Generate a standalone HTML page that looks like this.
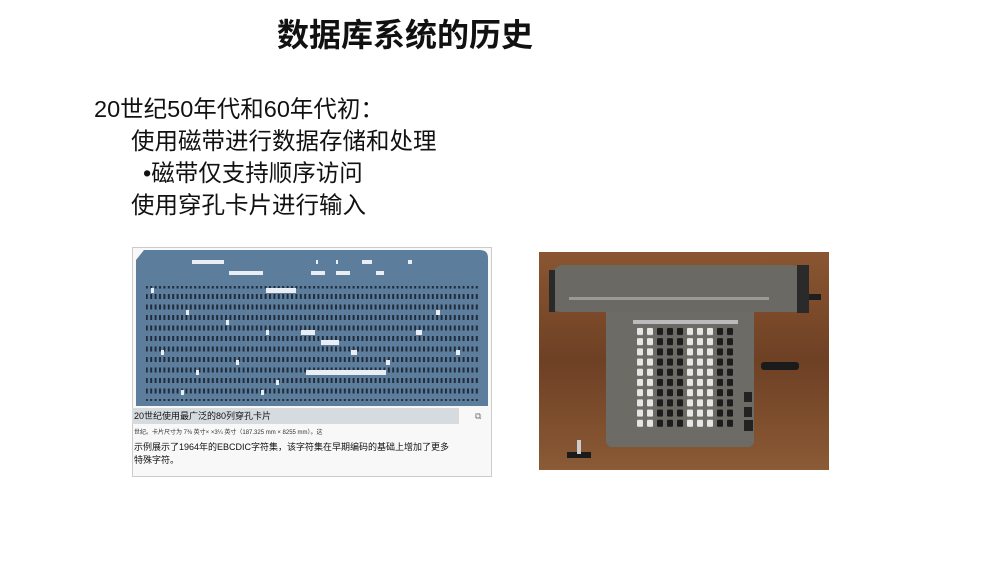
<!DOCTYPE html>
<html><head><meta charset="utf-8"><style>
body{margin:0;width:1006px;height:567px;background:#fff;position:relative;overflow:hidden;font-family:"Liberation Sans","Noto Sans CJK SC",sans-serif;color:#111}
.t{position:absolute;white-space:nowrap}
</style></head><body>
<div class="t" style="left:277px;top:15px;font-size:32px;font-weight:bold;line-height:40px">数据库系统的历史</div>
<div class="t" style="left:94px;top:94px;font-size:23.5px;line-height:30px">20世纪50年代和60年代初：</div>
<div class="t" style="left:131px;top:126px;font-size:23.5px;line-height:30px">使用磁带进行数据存储和处理</div>
<div class="t" style="left:143px;top:158px;font-size:23.5px;line-height:30px">•磁带仅支持顺序访问</div>
<div class="t" style="left:131px;top:190px;font-size:23.5px;line-height:30px">使用穿孔卡片进行输入</div>

<div style="position:absolute;left:132px;top:247px;width:358px;height:228px;border:1px solid #ccc;background:#f8f8f8"></div>
<svg style="position:absolute;left:136px;top:250px" width="352" height="156">
<defs><pattern id="p" width="4.4" height="10.5" patternUnits="userSpaceOnUse"><rect x="1" y="2" width="2" height="5" fill="#1e2c3c"/></pattern></defs>
<path d="M8 0 H344 Q352 0 352 8 V156 H0 V10 Z" fill="#5d7d9c"/>
<rect x="10" y="36" width="334" height="115" fill="url(#p)"/>
<g fill="#e8eef4">
<rect x="56" y="10" width="32" height="4"/><rect x="93" y="21" width="34" height="4"/>
<rect x="180" y="10" width="2" height="4"/><rect x="200" y="10" width="2" height="4"/><rect x="226" y="10" width="10" height="4"/><rect x="272" y="10" width="4" height="4"/>
<rect x="175" y="21" width="14" height="4"/><rect x="200" y="21" width="14" height="4"/><rect x="240" y="21" width="8" height="4"/>
<rect x="130" y="38" width="30" height="5"/><rect x="15" y="38" width="3" height="5"/><rect x="170" y="120" width="80" height="5"/>
<rect x="50" y="60" width="3" height="5"/><rect x="90" y="70" width="3" height="5"/><rect x="130" y="80" width="3" height="5"/><rect x="165" y="80" width="14" height="5"/>
<rect x="185" y="90" width="18" height="5"/><rect x="215" y="100" width="6" height="5"/><rect x="250" y="110" width="4" height="5"/><rect x="280" y="80" width="6" height="5"/>
<rect x="25" y="100" width="3" height="5"/><rect x="60" y="120" width="3" height="5"/><rect x="100" y="110" width="3" height="5"/><rect x="140" y="130" width="3" height="5"/>
<rect x="45" y="140" width="3" height="5"/><rect x="125" y="140" width="3" height="5"/><rect x="300" y="60" width="4" height="5"/><rect x="320" y="100" width="4" height="5"/>
</g></svg>
<div style="position:absolute;left:132px;top:408px;width:327px;height:16px;background:#d6dbe0"></div>
<div class="t" style="left:134px;top:409px;font-size:9px">20世纪使用最广泛的80列穿孔卡片</div>
<div class="t" style="left:475px;top:411px;font-size:9px;color:#777">⧉</div>
<div class="t" style="left:134px;top:427px;font-size:6px;color:#333">世纪。卡片尺寸为 7⅜ 英寸× ×3¼ 英寸（187.325 mm × 8255 mm）。这</div>
<div class="t" style="left:134px;top:441px;font-size:9px;line-height:13px">示例展示了1964年的EBCDIC字符集，该字符集在早期编码的基础上增加了更多<br>特殊字符。</div>

<svg style="position:absolute;left:539px;top:252px" width="290" height="218">
<defs><linearGradient id="w" x1="0" y1="0" x2="0" y2="1"><stop offset="0" stop-color="#8a5632"/><stop offset="0.5" stop-color="#6e4024"/><stop offset="1" stop-color="#8b5a36"/></linearGradient></defs>
<rect width="290" height="218" fill="url(#w)"/>
<rect x="67" y="55" width="148" height="140" rx="6" fill="#6d6b65"/>
<path d="M12 25 Q14 14 24 13 H250 Q268 13 270 30 V52 Q268 60 255 60 H22 Q12 60 10 50 Z" fill="#6a6963"/>
<rect x="10" y="18" width="6" height="42" fill="#2a2a2a"/><rect x="258" y="13" width="12" height="48" fill="#2a2a2a"/>
<rect x="270" y="42" width="12" height="6" fill="#1e1e1e"/>
<rect x="30" y="45" width="200" height="3" fill="#9a9a94"/>
<rect x="94" y="68" width="105" height="4" fill="#bbb"/>
<rect x="28" y="200" width="24" height="6" fill="#1a1a1a"/>
<rect x="38" y="188" width="4" height="14" fill="#ccc"/>
<rect x="222" y="110" width="38" height="8" rx="3" fill="#1b1b1b"/>
<rect x="205" y="140" width="8" height="10" fill="#222"/><rect x="205" y="155" width="8" height="10" fill="#222"/><rect x="205" y="168" width="9" height="11" fill="#222"/>
</svg>
<svg style="position:absolute;left:636px;top:326px" width="130" height="126">
<defs>
<pattern id="wk" width="10" height="10.2" patternUnits="userSpaceOnUse"><rect x="1" y="2" width="6" height="7" rx="1" fill="#e6e6e4"/></pattern>
<pattern id="bk" width="10" height="10.2" patternUnits="userSpaceOnUse"><rect x="1" y="2" width="6" height="7" rx="1" fill="#1c1c1c"/></pattern>
</defs>
<rect x="0" y="0" width="20" height="102" fill="url(#wk)"/>
<rect x="20" y="0" width="30" height="102" fill="url(#bk)"/>
<rect x="50" y="0" width="30" height="102" fill="url(#wk)"/>
<rect x="80" y="0" width="20" height="102" fill="url(#bk)"/>
</svg>
</body></html>
